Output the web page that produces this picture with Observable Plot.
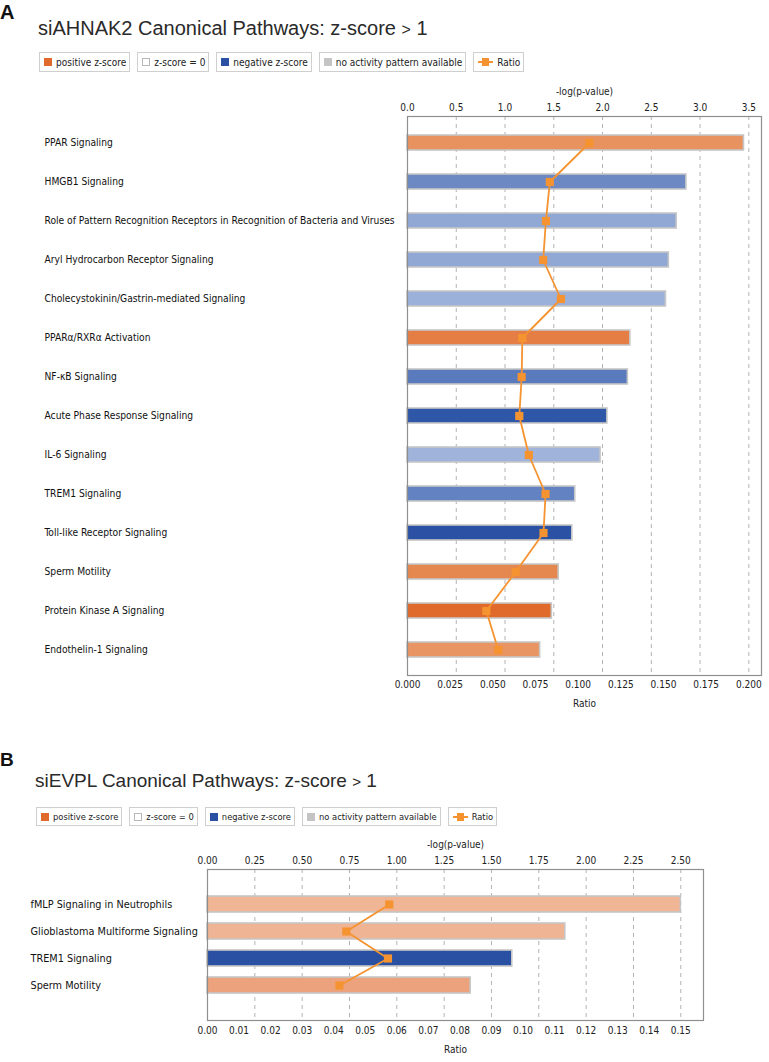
<!DOCTYPE html>
<html>
<head>
<meta charset="utf-8">
<script src="https://cdn.jsdelivr.net/npm/d3@7"></script>
<script src="https://cdn.jsdelivr.net/npm/@observablehq/plot@0.6"></script>
<style>
  html, body { margin: 0; padding: 0; background: #fff; }
  #page { position: relative; width: 769px; height: 1062px; overflow: hidden; font-family: "Liberation Sans", Arial, sans-serif; color: #222; }
  .panel-letter { position: absolute; font-weight: bold; line-height: 20px; color: #111; }
  .title { position: absolute; line-height: 20px; color: #2a2a2a; white-space: nowrap; }
  .title .gt { font-size: 0.8em; }
  .legend { position: absolute; display: flex; align-items: center; font-family: "DejaVu Sans Condensed", "DejaVu Sans", sans-serif; color: #222; }
  .legend .item { display: flex; align-items: center; border: 1px solid #cfcfcf; box-sizing: border-box; padding: 0 3px 0 4px; margin-right: 7px; white-space: nowrap; background: #fff; }
  .legend .sw { display: inline-block; width: 8px; height: 8px; margin-right: 4px; box-sizing: border-box; }
  .legend .ratio { position: relative; display: inline-block; width: 15px; height: 8px; margin-right: 4px; }
  .legend .ratio .ln { position: absolute; left: 0; right: 0; top: 3px; height: 2px; background: #F59331; }
  .legend .ratio .sq { position: absolute; left: 4px; top: 0; width: 7px; height: 8px; background: #F59331; }
  .svgwrap { position: absolute; left: 0; }
</style>
</head>
<body>
<div id="page"></div>
<script>
// ---------- Panel A data ----------
const namesA = [
  "PPAR Signaling",
  "HMGB1 Signaling",
  "Role of Pattern Recognition Receptors in Recognition of Bacteria and Viruses",
  "Aryl Hydrocarbon Receptor Signaling",
  "Cholecystokinin/Gastrin-mediated Signaling",
  "PPARα/RXRα Activation",
  "NF-κB Signaling",
  "Acute Phase Response Signaling",
  "IL-6 Signaling",
  "TREM1 Signaling",
  "Toll-like Receptor Signaling",
  "Sperm Motility",
  "Protein Kinase A Signaling",
  "Endothelin-1 Signaling"
];
const logpA = [3.45, 2.86, 2.76, 2.68, 2.65, 2.285, 2.26, 2.05, 1.98, 1.72, 1.69, 1.55, 1.48, 1.36];
const ratioA = [0.1066, 0.0834, 0.0811, 0.0795, 0.0899, 0.0673, 0.0669, 0.0655, 0.0711, 0.0809, 0.0797, 0.0634, 0.0462, 0.0532];
const colorsA = ["#E8925F", "#6C89C3", "#91A8D5", "#91A8D5", "#9CB1DA", "#E57E45", "#5A7ABE", "#2E57A8", "#A0B3DA", "#6382C2", "#2A51A3", "#E5884F", "#E06A2B", "#E89563"];
const logpTicksA = [0, 0.5, 1.0, 1.5, 2.0, 2.5, 3.0, 3.5];
const ratioTicksA = [0, 0.025, 0.05, 0.075, 0.1, 0.125, 0.15, 0.175, 0.2];

// ---------- Panel B data ----------
const namesB = [
  "fMLP Signaling in Neutrophils",
  "Glioblastoma Multiforme Signaling",
  "TREM1 Signaling",
  "Sperm Motility"
];
const logpB = [2.50, 1.89, 1.61, 1.39];
const ratioB = [0.0576, 0.0440, 0.0572, 0.0418];
const colorsB = ["#F0B594", "#EFB493", "#2A50A3", "#ECA37D"];
const logpTicksB = [0, 0.25, 0.5, 0.75, 1.0, 1.25, 1.5, 1.75, 2.0, 2.25, 2.5];
const ratioTicksB = [0, 0.01, 0.02, 0.03, 0.04, 0.05, 0.06, 0.07, 0.08, 0.09, 0.1, 0.11, 0.12, 0.13, 0.14, 0.15];

const legendItems = [
  {kind: "sq", color: "#E06A2C", label: "positive z-score"},
  {kind: "hollow", color: "#fff", label: "z-score = 0"},
  {kind: "sq", color: "#2A50A3", label: "negative z-score"},
  {kind: "sq", color: "#C4C4C4", label: "no activity pattern available"},
  {kind: "ratio", label: "Ratio"}
];

const uiFont = '"DejaVu Sans Condensed", "DejaVu Sans", sans-serif';
const ORANGE = "#F59331";

const page = document.getElementById("page");

function addDiv(cls, html, style) {
  const d = document.createElement("div");
  d.className = cls;
  d.innerHTML = html;
  Object.assign(d.style, style);
  page.appendChild(d);
  return d;
}

function addLegend(top, left, fontSize, height) {
  const lg = addDiv("legend", "", {top: top + "px", left: left + "px", fontSize: fontSize + "px"});
  for (const it of legendItems) {
    const item = document.createElement("div");
    item.className = "item";
    item.style.height = height + "px";
    let sw;
    if (it.kind === "ratio") {
      sw = '<span class="ratio"><span class="ln"></span><span class="sq"></span></span>';
    } else if (it.kind === "hollow") {
      sw = '<span class="sw" style="border:1px solid #b8b8b8;background:#fff"></span>';
    } else {
      sw = `<span class="sw" style="background:${it.color}"></span>`;
    }
    item.innerHTML = sw + `<span>${it.label}</span>`;
    lg.appendChild(item);
  }
}

function makePanel(cfg) {
  const data = cfg.names.map((name, i) => ({name, logp: cfg.logp[i], ratio: cfg.ratio[i], color: cfg.colors[i]}));
  const k = cfg.k; // ratio -> -log(p) axis conversion (dual axis)
  const chart = Plot.plot({
    width: 769,
    height: cfg.height,
    marginLeft: cfg.marginLeft,
    marginRight: cfg.marginRight,
    marginTop: cfg.marginTop,
    marginBottom: cfg.marginBottom,
    style: {fontFamily: uiFont, fontSize: cfg.tickFont + "px", color: "#222", background: "transparent"},
    x: {domain: [0, cfg.xMax]},
    y: {domain: cfg.names, paddingInner: cfg.pi, paddingOuter: cfg.po, axis: null},
    marks: [
      Plot.gridX(cfg.logpTicks.slice(1), {stroke: "#b3b3b3", strokeOpacity: 1, strokeDasharray: "4,4"}),
      Plot.barX(data, {y: "name", x: "logp", fill: "color", stroke: "#c6c6c6", strokeWidth: 1.6}),
      Plot.line(data, {y: "name", x: d => d.ratio * k, stroke: ORANGE, strokeWidth: 1.8}),
      Plot.dot(data, {y: "name", x: d => d.ratio * k, symbol: "square", r: 4.6, fill: ORANGE, stroke: null}),
      Plot.frame({stroke: "#8f8f8f", strokeWidth: 1.2}),
      Plot.axisX({anchor: "top", ticks: cfg.logpTicks, tickFormat: d => d.toFixed(cfg.logpDigits), tickSize: 0, tickPadding: cfg.topPad, label: null, fontSize: cfg.tickFont}),
      Plot.axisX({anchor: "bottom", ticks: cfg.ratioTicks.map(r => r * k), tickFormat: v => (v / k).toFixed(cfg.ratioDigits), tickSize: 0, tickPadding: cfg.botPad, label: null, fontSize: cfg.tickFont}),
      Plot.text(cfg.names, {y: d => d, text: d => d, frameAnchor: "left", textAnchor: "start", dx: cfg.labelDx, fontSize: cfg.labelFont, fill: "#111"}),
      Plot.text(["-log(p-value)"], {text: d => d, frameAnchor: "top", lineAnchor: "middle", dy: -25, fontSize: cfg.tickFont, fill: "#222"}),
      Plot.text(["Ratio"], {text: d => d, frameAnchor: "bottom", lineAnchor: "middle", dy: cfg.ratioDy, fontSize: cfg.tickFont, fill: "#222"})
    ]
  });
  const wrap = document.createElement("div");
  wrap.className = "svgwrap";
  wrap.style.top = cfg.top + "px";
  wrap.appendChild(chart);
  page.appendChild(wrap);
}

// ---------- Panel A ----------
addDiv("panel-letter", "A", {top: "2px", left: "0px", fontSize: "20px"});
addDiv("title", 'siAHNAK2 Canonical Pathways: z-score <span class="gt">&gt;</span> 1', {top: "18px", left: "38px", fontSize: "20px"});
addLegend(52, 39, 10, 20);
makePanel({
  names: namesA, logp: logpA, ratio: ratioA, colors: colorsA,
  logpTicks: logpTicksA, ratioTicks: ratioTicksA, logpDigits: 1, ratioDigits: 3,
  k: 3.5 / 0.2, xMax: 3.63,
  top: 80, height: 640, marginLeft: 407, marginRight: 8, marginTop: 36, marginBottom: 45,
  pi: 0.618, po: 0.421, labelDx: -363, labelFont: 10.2, tickFont: 10, topPad: 6, botPad: 5, ratioDy: 28
});

// ---------- Panel B ----------
addDiv("panel-letter", "B", {top: "750px", left: "0px", fontSize: "19px"});
addDiv("title", 'siEVPL Canonical Pathways: z-score <span class="gt">&gt;</span> 1', {top: "771px", left: "35px", fontSize: "19px"});
addLegend(807, 36, 9.3, 19);
makePanel({
  names: namesB, logp: logpB, ratio: ratioB, colors: colorsB,
  logpTicks: logpTicksB, ratioTicks: ratioTicksB, logpDigits: 2, ratioDigits: 2,
  k: 2.5 / 0.15, xMax: 2.62,
  top: 832, height: 230, marginLeft: 207, marginRight: 66, marginTop: 37, marginBottom: 42,
  pi: 0.414, po: 0.972, labelDx: -177, labelFont: 10.8, tickFont: 10, topPad: 6, botPad: 6, ratioDy: 29
});
</script>
</body>
</html>
